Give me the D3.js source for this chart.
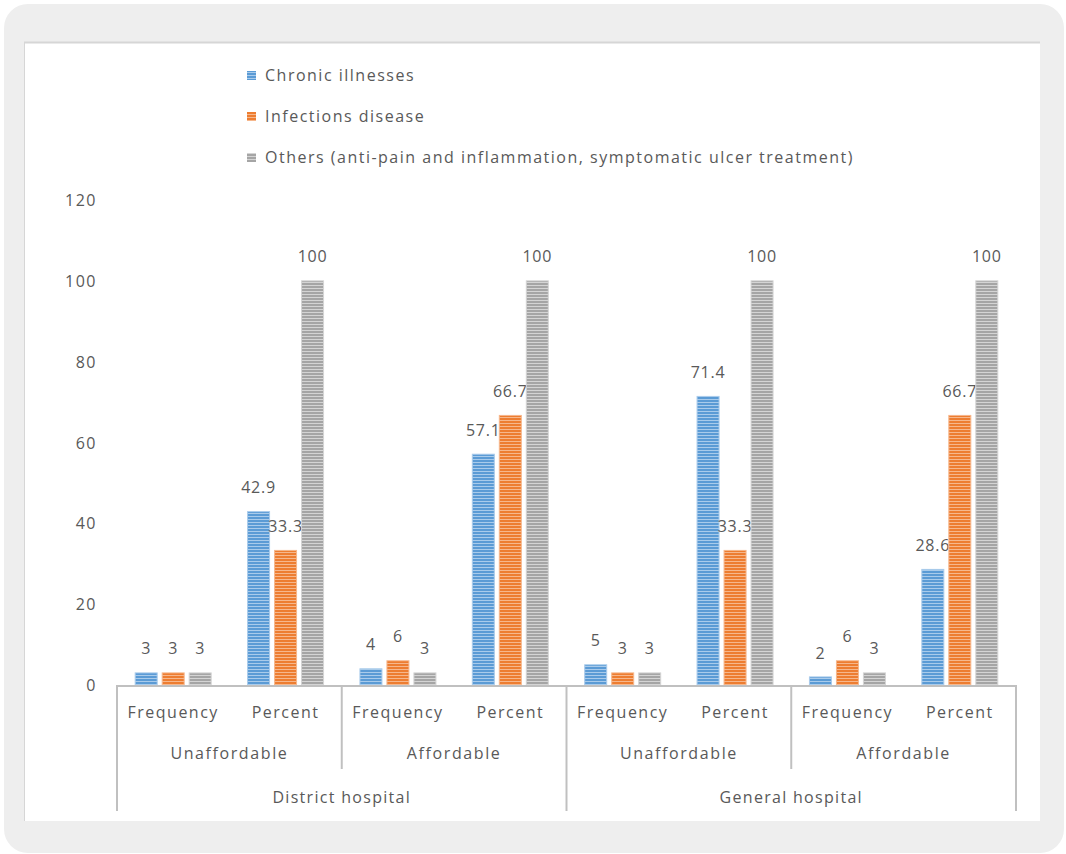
<!DOCTYPE html>
<html>
<head>
<meta charset="utf-8">
<script src="https://cdn.jsdelivr.net/npm/d3@7/dist/d3.min.js"></script>
<style>
  html, body { margin: 0; padding: 0; background: #ffffff; }
  svg { display: block; }
  text { font-family: "Open Sans", "Noto Sans", sans-serif; fill: #595959; }
</style>
</head>
<body>
<svg id="chart" width="1066" height="854"></svg>
<script>
// ---- data ----
const leafCategories = ["Frequency", "Percent", "Frequency", "Percent", "Frequency", "Percent", "Frequency", "Percent"];
const midCategories = ["Unaffordable", "Affordable", "Unaffordable", "Affordable"];
const topCategories = ["District hospital", "General hospital"];
const seriesNames = ["Chronic illnesses", "Infections disease", "Others (anti-pain and inflammation, symptomatic ulcer treatment)"];
const chronicValues = [3, 42.9, 4, 57.1, 5, 71.4, 2, 28.6];
const infectionValues = [3, 33.3, 6, 66.7, 3, 33.3, 6, 66.7];
const otherValues = [3, 100, 3, 100, 3, 100, 3, 100];
const yTicks = [0, 20, 40, 60, 80, 100, 120];

const seriesValues = [chronicValues, infectionValues, otherValues];
const seriesColors = [
  { base: "#5b9bd5", light: "#a9cbeb" },
  { base: "#ed7d31", light: "#f6b78c" },
  { base: "#a5a5a5", light: "#d4d4d4" }
];

const svg = d3.select("#chart");

// ---- card background ----
svg.append("rect").attr("x", 4).attr("y", 4).attr("width", 1060).attr("height", 849)
  .attr("rx", 24).attr("ry", 24).attr("fill", "#eeeeee");
svg.append("rect").attr("x", 24).attr("y", 42).attr("width", 1016).attr("height", 779).attr("fill", "#ffffff");
svg.append("line").attr("x1", 24).attr("x2", 1040).attr("y1", 42.5).attr("y2", 42.5)
  .attr("stroke", "#d6d6d6").attr("stroke-width", 2);
svg.append("line").attr("x1", 24.5).attr("x2", 24.5).attr("y1", 42).attr("y2", 821)
  .attr("stroke", "#d6d6d6").attr("stroke-width", 1);

// ---- patterns ----
const defs = svg.append("defs");
seriesColors.forEach((c, i) => {
  const p = defs.append("pattern").attr("id", "pat" + i).attr("patternUnits", "userSpaceOnUse")
    .attr("width", 6).attr("height", 3);
  p.append("rect").attr("width", 6).attr("height", 3).attr("fill", c.base);
  p.append("rect").attr("width", 6).attr("height", 1).attr("fill", c.light);
});

// ---- scales ----
const plotLeft = 117, plotRight = 1016, plotTop = 200, plotBottom = 685;
const y = d3.scaleLinear().domain([0, 120]).range([plotBottom, plotTop]);
const x0 = d3.scaleBand().domain(d3.range(leafCategories.length)).range([plotLeft, plotRight]).paddingInner(0).paddingOuter(0);
const x1 = d3.scaleBand().domain(d3.range(seriesNames.length)).range([0, x0.bandwidth()])
  .paddingInner(0.185).paddingOuter(0.674);

// ---- y axis (labels only) ----
const yAxis = d3.axisLeft(y).tickValues(yTicks).tickSize(0).tickPadding(0);
const yg = svg.append("g").attr("transform", `translate(97,0)`).call(yAxis);
yg.select(".domain").remove();
yg.selectAll("text").style("font-size", "16px").style("letter-spacing", "1.5px")
  .attr("fill", "#595959").attr("font-family", "Open Sans").attr("dy", "0.35em");

// ---- bars ----
seriesValues.forEach((vals, si) => {
  const g = svg.append("g");
  g.selectAll("rect").data(vals).enter().append("rect")
    .attr("x", (d, i) => x0(i) + x1(si))
    .attr("y", d => y(d))
    .attr("width", x1.bandwidth())
    .attr("height", d => y(0) - y(d))
    .attr("fill", `url(#pat${si})`)
    .attr("stroke", seriesColors[si].light)
    .attr("stroke-width", 1);
  g.selectAll("text").data(vals).enter().append("text")
    .attr("x", (d, i) => x0(i) + x1(si) + x1.bandwidth() / 2)
    .attr("y", d => y(d) - 24)
    .attr("dy", "0.35em")
    .attr("text-anchor", "middle")
    .style("font-size", "16px").style("letter-spacing", "0.8px")
    .attr("fill", "#404040")
    .text(d => d);
});

// ---- x axis multi-level ----
const axisColor = "#c0c0c0";
svg.append("line").attr("x1", plotLeft).attr("x2", plotRight).attr("y1", plotBottom + 1).attr("y2", plotBottom + 1)
  .attr("stroke", axisColor).attr("stroke-width", 2);

const leafG = svg.append("g");
leafG.selectAll("text").data(leafCategories).enter().append("text")
  .attr("x", (d, i) => x0(i) + x0.bandwidth() / 2)
  .attr("y", 712).attr("dy", "0.35em").attr("text-anchor", "middle")
  .style("font-size", "16px").style("letter-spacing", "1.5px")
  .text(d => d);

const midWidth = x0.bandwidth() * 2;
const midG = svg.append("g");
midG.selectAll("text").data(midCategories).enter().append("text")
  .attr("x", (d, i) => plotLeft + midWidth * i + midWidth / 2)
  .attr("y", 753).attr("dy", "0.35em").attr("text-anchor", "middle")
  .style("font-size", "16px").style("letter-spacing", "1.6px")
  .text(d => d);

const topWidth = x0.bandwidth() * 4;
const topG = svg.append("g");
topG.selectAll("text").data(topCategories).enter().append("text")
  .attr("x", (d, i) => plotLeft + topWidth * i + topWidth / 2)
  .attr("y", 797).attr("dy", "0.35em").attr("text-anchor", "middle")
  .style("font-size", "16px").style("letter-spacing", "1.3px")
  .text(d => d);

// dividers
const midBounds = d3.range(midCategories.length + 1).map(i => plotLeft + midWidth * i);
svg.append("g").selectAll("line").data(midBounds).enter().append("line")
  .attr("x1", d => d).attr("x2", d => d)
  .attr("y1", plotBottom)
  .attr("y2", (d, i) => (i % 2 === 0 ? 811 : 769))
  .attr("stroke", axisColor).attr("stroke-width", 2);

// ---- legend ----
const legend = svg.append("g");
const legendY = [75, 116, 157];
seriesNames.forEach((name, i) => {
  legend.append("rect").attr("x", 247).attr("y", legendY[i] - 4).attr("width", 9).attr("height", 9)
    .attr("fill", `url(#pat${i})`);
  legend.append("text").attr("x", 265).attr("y", legendY[i]).attr("dy", "0.35em")
    .style("font-size", "16px").style("letter-spacing", "1.5px")
    .text(name);
});
</script>
</body>
</html>
